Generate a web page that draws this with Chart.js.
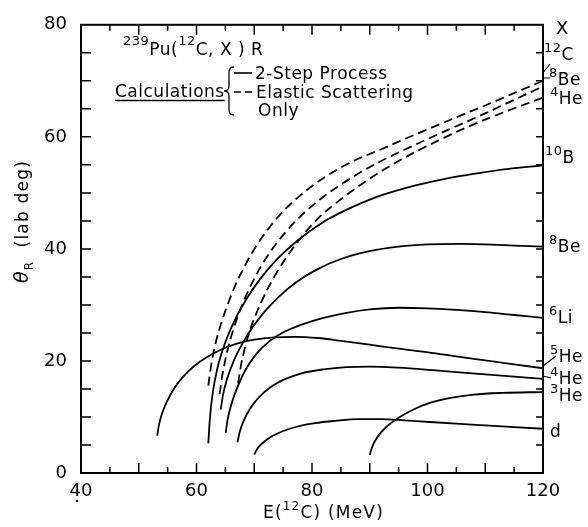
<!DOCTYPE html>
<html><head><meta charset="utf-8">
<script src="https://cdn.jsdelivr.net/npm/chart.js@4/dist/chart.umd.min.js"></script>
<style>html,body{margin:0;padding:0;background:#fff}</style>
</head><body>
<canvas id="c" width="588" height="527"></canvas>
<script>
// ---- data (E in MeV, theta in lab deg) ----
const xTickLabels = [40, 60, 80, 100, 120];
const yTickLabels = [0, 20, 40, 60, 80];

// solid: 2-step process
const d_E   = [70, 70.5, 71.5, 73, 75, 77.5, 80.5, 84, 88, 92, 96, 100.4, 105, 110, 115, 120];
const d_T   = [3.3, 4.3, 5.4, 6.5, 7.5, 8.3, 8.9, 9.3, 9.6, 9.6, 9.4, 9.1, 8.8, 8.5, 8.2, 7.9];
const he3_E = [90, 90.4, 91, 92, 93.4, 95.2, 97.5, 100.4, 104, 108, 113, 120];
const he3_T = [3.2, 4.6, 5.9, 7.3, 8.7, 10.0, 11.3, 12.5, 13.4, 14.0, 14.3, 14.45];
const he4_E = [67.1, 67.5, 68.2, 69.3, 70.8, 72.8, 75.2, 78.2, 82, 86, 90, 95, 100.4, 105, 110, 115, 120];
const he4_T = [5.5, 7.4, 9.4, 11.5, 13.5, 15.3, 16.7, 17.8, 18.5, 18.9, 19.0, 18.8, 18.4, 18.0, 17.6, 17.2, 16.8];
const he5_E = [53.2, 53.5, 54.1, 55, 56.2, 57.7, 59.5, 61.7, 64.2, 67, 70, 73.5, 77, 81, 85, 90, 95, 100.4, 105, 110, 115, 120];
const he5_T = [6.65, 8.6, 10.8, 13.0, 15.2, 17.2, 19.0, 20.6, 22.0, 23.1, 23.8, 24.2, 24.3, 24.1, 23.6, 22.9, 22.2, 21.5, 20.8, 20.1, 19.4, 18.7];
const li6_E = [65.05, 65.4, 66.1, 67.2, 68.6, 70.4, 72.6, 75.2, 78.2, 82, 86, 90, 95, 100, 105, 110, 115, 120];
const li6_T = [7.1, 9.6, 12.5, 15.6, 18.6, 21.3, 23.5, 25.2, 26.5, 27.7, 28.6, 29.2, 29.5, 29.4, 29.1, 28.7, 28.2, 27.7];
const be8_E = [64.2, 64.6, 65.3, 66.4, 67.9, 69.7, 71.8, 74.2, 77.2, 80.8, 85, 90, 95, 100, 105.6, 110, 115, 120];
const be8_T = [11.3, 14.0, 16.8, 19.9, 23.0, 26.0, 28.8, 31.4, 34.0, 36.3, 38.2, 39.6, 40.4, 40.8, 40.9, 40.8, 40.6, 40.4];
const b10_E = [62.05, 62.3, 62.8, 63.6, 64.8, 66.4, 68.5, 71, 74, 77.5, 81.5, 86, 91, 96, 100.4, 105, 110, 115, 120];
const b10_T = [5.3, 9.5, 14.2, 18.6, 22.8, 26.8, 30.8, 34.6, 38.2, 41.5, 44.5, 47.0, 49.2, 50.8, 51.9, 52.9, 53.7, 54.4, 54.9];

// dashed: elastic scattering only
const c12el_E = [62.05, 62.5, 63.2, 64.3, 65.7, 67.4, 69.5, 72, 75, 78.5, 82.5, 87, 91.8, 96, 100.4, 105, 110, 115, 120];
const c12el_T = [15.6, 19.0, 22.7, 26.8, 30.9, 35.0, 39.1, 43.0, 46.7, 50.0, 53.0, 55.6, 57.7, 59.6, 61.5, 63.5, 65.6, 67.8, 70.0];
const be8el_E = [64.0, 64.5, 65.3, 66.4, 67.9, 69.8, 72.2, 75.1, 78.5, 82.5, 87, 91.8, 96, 100.4, 105, 110, 115, 120];
const be8el_T = [14.1, 17.6, 21.6, 25.7, 30.0, 34.3, 38.6, 42.6, 46.3, 49.7, 52.8, 55.6, 57.7, 59.8, 61.9, 64.2, 66.6, 69.0];
const he4el_E = [67.2, 67.7, 68.5, 69.6, 71, 72.8, 75, 78, 81, 84.3, 88.5, 93, 97.5, 102, 107, 113, 120];
const he4el_T = [16.0, 19.2, 22.8, 26.5, 30.0, 33.8, 37.6, 41.9, 45.4, 48.3, 51.5, 54.5, 57.1, 59.4, 61.8, 64.3, 67.0];

const endMass = ['12', '8', '4', '10', '8', '6', '5', '4', '3', ''];
const endElem = ['C', 'Be', 'He', 'B', 'Be', 'Li', 'He', 'He', 'He', 'd'];

// ---- build ----
const pts = (E, T) => E.map((x, i) => ({x: x, y: T[i]}));
function ds(E, T, dashed) {
  return {data: pts(E, T), showLine: true, borderColor: '#000', borderWidth: 1.8,
    borderDash: dashed ? [9, 5] : [], pointRadius: 0, fill: false,
    cubicInterpolationMode: 'monotone'};
}
const datasets = [
  ds(d_E, d_T), ds(he3_E, he3_T), ds(he4_E, he4_T), ds(he5_E, he5_T),
  ds(li6_E, li6_T), ds(be8_E, be8_T), ds(b10_E, b10_T),
  ds(c12el_E, c12el_T, true), ds(be8el_E, be8el_T, true), ds(he4el_E, he4el_T, true)
];

const FONT = '"DejaVu Sans", sans-serif';

function runs(ctx, x, y, parts) {
  let cx = x;
  for (const p of parts) {
    ctx.font = (p[3] ? 'italic ' : '') + p[1] + 'px ' + FONT;
    ctx.fillText(p[0], cx, y + (p[2] || 0));
    cx += ctx.measureText(p[0]).width;
  }
  return cx;
}

const deco = {
  id: 'deco',
  afterDraw(chart) {
    const ctx = chart.ctx, a = chart.chartArea;
    const xs = chart.scales.x, ys = chart.scales.y;
    ctx.save();
    ctx.strokeStyle = '#000'; ctx.fillStyle = '#000';
    ctx.lineWidth = 2;
    ctx.strokeRect(a.left, a.top, a.right - a.left, a.bottom - a.top);
    ctx.lineWidth = 1.5;
    ctx.beginPath();
    for (let v = 45; v < 120; v += 5) {
      const px = xs.getPixelForValue(v);
      const L = (v % 10 === 0) ? 10 : 6;
      ctx.moveTo(px, a.bottom); ctx.lineTo(px, a.bottom - L);
      ctx.moveTo(px, a.top); ctx.lineTo(px, a.top + L);
    }
    for (let v = 5; v < 80; v += 5) {
      const py = ys.getPixelForValue(v);
      ctx.moveTo(a.left, py); ctx.lineTo(a.left + 10, py);
      ctx.moveTo(a.right, py); ctx.lineTo(a.right - 7, py);
    }
    ctx.stroke();

    ctx.textBaseline = 'alphabetic';
    ctx.textAlign = 'left';
    const hasLS = ctx.letterSpacing !== undefined;
    ctx.save();
    if (hasLS) ctx.letterSpacing = '1.2px';
    ctx.translate(28, 283);
    ctx.rotate(-Math.PI / 2);
    runs(ctx, 0, 0, [['\u03b8', 19, 0, true], ['R', 12, 5], ['  (lab deg)', 17, 0]]);
    ctx.restore();
    if (hasLS) ctx.letterSpacing = '1.2px';
    runs(ctx, 263, 518, [['E(', 17, 0], ['12', 12, -8], ['C) (MeV)', 17, 0]]);
    if (hasLS) ctx.letterSpacing = '0.5px';

    runs(ctx, 123, 55, [['239', 13, -10], ['Pu(', 17, 0], ['12', 13, -10], ['C, X ) R', 17, 0]]);
    const ce = runs(ctx, 115, 97, [['Calculations', 17, 0]]);
    ctx.lineWidth = 1.3;
    ctx.beginPath(); ctx.moveTo(115, 100.5); ctx.lineTo(ce, 100.5); ctx.stroke();
    ctx.beginPath();
    ctx.moveTo(234, 67); ctx.quadraticCurveTo(229, 67, 229, 72);
    ctx.lineTo(229, 86); ctx.quadraticCurveTo(229, 91, 224, 91);
    ctx.quadraticCurveTo(229, 91, 229, 96);
    ctx.lineTo(229, 110); ctx.quadraticCurveTo(229, 115, 234, 115);
    ctx.stroke();
    ctx.lineWidth = 1.6;
    ctx.beginPath(); ctx.moveTo(234, 73); ctx.lineTo(252, 73); ctx.stroke();
    ctx.beginPath(); ctx.moveTo(234, 92); ctx.lineTo(241, 92);
    ctx.moveTo(245, 92); ctx.lineTo(252, 92); ctx.stroke();
    runs(ctx, 255, 79, [['2-Step Process', 17, 0]]);
    runs(ctx, 256, 98, [['Elastic Scattering', 17, 0]]);
    runs(ctx, 258, 116, [['Only', 17, 0]]);

    runs(ctx, 556, 34, [['X', 18, 0]]);
    const ly = [60, 85, 104, 163, 252, 323, 362, 384, 401, 437];
    const lx = [544, 549, 550, 545, 549, 549, 550, 550, 550, 550];
    for (let i = 0; i < endElem.length; i++) {
      runs(ctx, lx[i], ly[i], [[endMass[i], 13, -8], [endElem[i], 17, 0]]);
    }
    ctx.lineWidth = 1.2;
    ctx.beginPath();
    ctx.moveTo(542, 74); ctx.lineTo(550, 64);
    ctx.moveTo(543, 78); ctx.lineTo(550, 78);
    ctx.moveTo(543, 366); ctx.lineTo(556, 356);
    ctx.moveTo(543, 376); ctx.lineTo(551, 378);
    ctx.stroke();
    ctx.beginPath(); ctx.arc(77, 501, 1.3, 0, Math.PI * 2); ctx.fill();
    ctx.restore();
  }
};

new Chart(document.getElementById('c'), {
  type: 'scatter',
  data: {datasets: datasets},
  plugins: [deco],
  options: {
    responsive: false, animation: false, devicePixelRatio: 1,
    layout: {padding: {left: 0, top: 16, right: 45, bottom: 0}},
    plugins: {legend: {display: false}, tooltip: {enabled: false}},
    scales: {
      x: {
        type: 'linear', min: 40, max: 120,
        afterBuildTicks: s => { s.ticks = xTickLabels.map(v => ({value: v})); },
        afterFit: s => { s.height = 54; },
        grid: {display: false, drawTicks: false}, border: {display: false},
        ticks: {font: {family: FONT, size: 18}, color: '#000', padding: 8, maxRotation: 0, autoSkip: false}
      },
      y: {
        type: 'linear', min: 0, max: 80,
        afterBuildTicks: s => { s.ticks = yTickLabels.map(v => ({value: v})); },
        afterFit: s => { s.width = 81; },
        grid: {display: false, drawTicks: false}, border: {display: false},
        ticks: {font: {family: FONT, size: 18}, color: '#000', padding: 14, autoSkip: false}
      }
    }
  }
});
</script>
</body></html>
